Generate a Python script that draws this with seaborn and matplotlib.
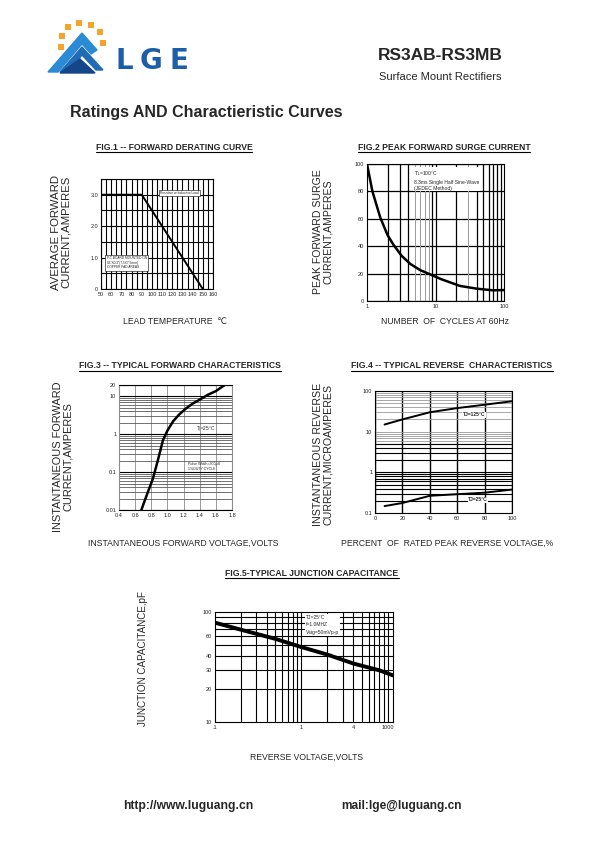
import matplotlib
matplotlib.use('Agg')
import matplotlib.pyplot as plt
from matplotlib.patches import Polygon
from matplotlib.lines import Line2D
from matplotlib.ticker import MultipleLocator, FixedLocator, NullFormatter
import seaborn as sns

# ---- data ----
# fig.1 forward derating
derating_temp = [50, 90, 150]
derating_amps = [3.0, 3.0, 0.0]
fig1_xticks = [50, 60, 70, 80, 90, 100, 110, 120, 130, 140, 150, 160]
fig1_yticks = [0, 1, 2, 3]
fig1_ylabels = ['0', '1.0', '2.0', '3.0']

# fig.2 peak forward surge
surge_cycles = [1, 1.2, 1.56, 2.0, 2.44, 3.2, 4.3, 6, 8.3, 12, 22.8, 40, 69, 100]
surge_amps = [100, 80, 61, 48, 41, 33, 27, 22.5, 19.5, 16, 11, 9, 7.8, 8]
fig2_yticks = [0, 20, 40, 60, 80, 100]
fig2_xticks = [1, 10, 100]
fig2_black_v = [2, 3, 4, 9, 10, 20, 40, 50, 60, 70, 80, 90]
fig2_gray_v = [5, 6, 7, 8, 30]

# fig.3 forward characteristics
fwd_volts = [0.677, 0.72, 0.77, 0.82, 0.88, 0.945, 1.0, 1.07, 1.15, 1.235, 1.32, 1.4, 1.5, 1.6, 1.71]
fwd_amps = [0.01, 0.018, 0.035, 0.067, 0.2, 0.7, 1.25, 2.2, 3.4, 4.9, 6.6, 8.2, 11, 13.8, 20]
fig3_xticks = [0.4, 0.6, 0.8, 1.0, 1.2, 1.4, 1.6, 1.8]
fig3_yticks = [0.01, 0.1, 1, 10, 20]
fig3_ylabels = ['0.01', '0.1', '1', '10', '20']

# fig.4 reverse characteristics
rev_pct = [7, 20, 40, 60, 80, 100]
rev_125 = [15, 20, 30, 38, 46, 56]
rev_25 = [0.148, 0.176, 0.265, 0.29, 0.316, 0.377]
fig4_xticks = [0, 20, 40, 60, 80, 100]
fig4_yticks = [0.1, 1, 10, 100]
fig4_ylabels = ['0.1', '1', '10', '100']
fig4_black_h = [0.2, 0.3, 0.4, 0.5, 0.6, 0.7, 0.8, 0.9, 1, 2, 3, 4, 5]
fig4_gray_h = [6, 7, 8, 9, 10, 20, 30, 40, 50, 60, 70, 80, 90]

# fig.5 junction capacitance
cap_volts = [0.1, 0.2, 0.5, 1, 2, 4, 8, 11.5]
cap_pf = [80, 69, 57, 48, 41, 34, 29.5, 26.5]
fig5_xticks = [0.1, 1, 4, 10]
fig5_xlabels = ['.1', '1', '4', '1000']
fig5_yticks = [10, 20, 30, 40, 60, 100]
fig5_hgrid = [20, 30, 40, 50, 60, 70, 80, 90]
fig5_vgrid = [0.2, 0.3, 0.4, 0.5, 0.6, 0.7, 0.8, 0.9, 1, 2, 3, 4, 5, 6, 7, 8, 9, 10]

sns.set_style('white')
plt.rcParams['font.family'] = ['Liberation Sans', 'DejaVu Sans']

W, H = 595, 842
fig = plt.figure(figsize=(W / 100, H / 100), dpi=100)


def px_axes(l, t, r, b):
    return fig.add_axes([l / W, 1 - b / H, (r - l) / W, (b - t) / H])


def ftext(x, y, s, **kw):
    return fig.text(x / W, 1 - y / H, s, **kw)


def style(ax):
    for s in ax.spines.values():
        s.set_visible(True)
        s.set_color('black')
        s.set_linewidth(0.8)
    ax.tick_params(which='both', length=0, labelsize=4, pad=2, colors='0.15')
    ax.set_xlabel('')
    ax.set_ylabel('')


def ylab(x, y, s, size):
    ftext(x, y, s, rotation=90, ha='center', va='center', fontsize=size, linespacing=0.95)


def xlab(x, y, s):
    ftext(x, y, s, ha='center', va='center', fontsize=6.2)


titles = []


def title(x, y, s):
    t = ftext(x, y, s, ha='center', va='center', fontsize=6.2, fontweight='bold')
    titles.append((t, y))


# ---------------- FIG 1 ----------------
ax1 = px_axes(101, 179, 213, 289)
sns.lineplot(x=derating_temp, y=derating_amps, ax=ax1, color='black', lw=1.4, zorder=5)
ax1.set_xlim(50, 160)
ax1.set_ylim(0, 3.5)
ax1.set_xticks(fig1_xticks)
ax1.set_yticks(fig1_yticks)
ax1.set_yticklabels(fig1_ylabels)
ax1.xaxis.set_minor_locator(MultipleLocator(5))
ax1.yaxis.set_minor_locator(MultipleLocator(0.5))
ax1.grid(which='both', color='black', lw=0.8)
style(ax1)
ax1.text(0.53, 0.87, 'Resistive or Inductive Load', transform=ax1.transAxes, fontsize=2.3,
         va='center', bbox=dict(facecolor='white', edgecolor='black', lw=0.4, pad=0.8), zorder=6)
ax1.text(0.05, 0.24, 'P.C.BOARD MOUNTED ON\n0.3"X0.3"(7.5X7.5mm)\nCOPPER PAD AREAS', transform=ax1.transAxes,
         fontsize=2.3, va='center', linespacing=1.3,
         bbox=dict(facecolor='white', edgecolor='black', lw=0.4, pad=0.8), zorder=6)
title(174, 147, 'FIG.1 -- FORWARD DERATING CURVE')
ylab(61, 232, 'AVERAGE FORWARD\nCURRENT,AMPERES', 8.2)
xlab(175, 321, 'LEAD TEMPERATURE  \u2103')

# ---------------- FIG 2 ----------------
ax2 = px_axes(367, 164, 504, 301)
ax2.set_xscale('log')
sns.lineplot(x=surge_cycles, y=surge_amps, ax=ax2, color='black', lw=1.8, zorder=5)
ax2.set_xlim(1, 100)
ax2.set_ylim(0, 100)
ax2.set_yticks(fig2_yticks)
ax2.set_xticks(fig2_xticks)
ax2.set_xticklabels([str(v) for v in fig2_xticks])
ax2.xaxis.set_minor_locator(FixedLocator([]))
ax2.grid(which='major', axis='y', color='black', lw=0.9)
for v in fig2_black_v:
    ax2.axvline(v, color='black', lw=0.9)
for v in fig2_gray_v:
    ax2.axvline(v, color='0.6', lw=0.7)
style(ax2)
ax2.text(4.8, 96, 'T$_L$=100\u00b0C\n8.3ms Single Half Sine-Wave\n(JEDEC Method)', fontsize=3.6,
         va='top', linespacing=1.3, bbox=dict(facecolor='white', edgecolor='none', pad=0.5), zorder=6)
title(444, 147, 'FIG.2 PEAK FORWARD SURGE CURRENT')
ylab(323, 232, 'PEAK FORWARD SURGE\nCURRENT,AMPERES', 7.6)
xlab(445, 322, 'NUMBER  OF  CYCLES AT 60Hz')

# ---------------- FIG 3 ----------------
ax3 = px_axes(119, 385, 232, 510)
ax3.set_yscale('log')
sns.lineplot(x=fwd_volts, y=fwd_amps, ax=ax3, color='black', lw=1.8, zorder=5)
ax3.set_xlim(0.4, 1.8)
ax3.set_ylim(0.01, 20)
ax3.set_xticks(fig3_xticks)
ax3.set_xticklabels(['%.1f' % v for v in fig3_xticks])
ax3.set_yticks(fig3_yticks)
ax3.set_yticklabels(fig3_ylabels)
ax3.yaxis.set_minor_formatter(NullFormatter())
ax3.grid(which='major', axis='y', color='black', lw=0.8)
ax3.grid(which='minor', axis='y', color='0.35', lw=0.6)
ax3.grid(which='major', axis='x', color='0.55', lw=0.6)
style(ax3)
ax3.spines['left'].set_color('0.55')
ax3.spines['right'].set_color('0.55')
ax3.text(1.36, 1.3, 'T$_J$=25\u00b0C', fontsize=3.4, va='center', zorder=6)
ax3.text(1.26, 0.14, 'Pulse Width=300\u03bcS\n1%DUTY CYCLE', fontsize=2.6, va='center', linespacing=1.2,
         zorder=6)
title(180, 366, 'FIG.3 -- TYPICAL FORWARD CHARACTERISTICS')
ylab(63, 457, 'INSTANTANEOUS FORWARD\nCURRENT,AMPERES', 7.9)
xlab(183, 543, 'INSTANTANEOUS FORWARD VOLTAGE,VOLTS')

# ---------------- FIG 4 ----------------
ax4 = px_axes(375, 391, 512, 513)
ax4.set_yscale('log')
sns.lineplot(x=rev_pct, y=rev_125, ax=ax4, color='black', lw=1.4, zorder=5)
sns.lineplot(x=rev_pct, y=rev_25, ax=ax4, color='black', lw=1.4, zorder=5)
ax4.set_xlim(0, 100)
ax4.set_ylim(0.1, 100)
ax4.set_xticks(fig4_xticks)
ax4.set_yticks(fig4_yticks)
ax4.set_yticklabels(fig4_ylabels)
ax4.yaxis.set_minor_locator(FixedLocator([]))
ax4.grid(which='major', axis='x', color='black', lw=1.0)
for v in fig4_black_h:
    ax4.axhline(v, color='black', lw=0.8)
for v in fig4_gray_h:
    ax4.axhline(v, color='0.6', lw=0.6)
style(ax4)
ax4.text(64, 26, 'TJ=125\u00b0C', fontsize=3.6, fontweight='bold', va='center', zorder=6,
         bbox=dict(facecolor='white', edgecolor='none', pad=0.3))
ax4.text(68, 0.21, 'TJ=25\u00b0C', fontsize=3.6, fontweight='bold', va='center', zorder=6,
         bbox=dict(facecolor='white', edgecolor='none', pad=0.3))
title(452, 366, 'FIG.4 -- TYPICAL REVERSE  CHARACTERISTICS')
ylab(323, 454, 'INSTANTANEOUS REVERSE\nCURRENT,MICROAMPERES', 7.7)
xlab(447, 543, 'PERCENT  OF  RATED PEAK REVERSE VOLTAGE,%')

# ---------------- FIG 5 ----------------
ax5 = px_axes(215, 612, 393, 722)
ax5.set_xscale('log')
ax5.set_yscale('log')
sns.lineplot(x=cap_volts, y=cap_pf, ax=ax5, color='black', lw=2.8, zorder=5)
ax5.set_xlim(0.1, 11.5)
ax5.set_ylim(10, 100)
ax5.set_xticks(fig5_xticks)
ax5.set_xticklabels(fig5_xlabels)
ax5.set_yticks(fig5_yticks)
ax5.set_yticklabels([str(v) for v in fig5_yticks])
ax5.xaxis.set_minor_locator(FixedLocator([]))
ax5.yaxis.set_minor_locator(FixedLocator([]))
for v in fig5_hgrid:
    ax5.axhline(v, color='black', lw=0.8)
for v in fig5_vgrid:
    ax5.axvline(v, color='black', lw=0.8)
style(ax5)
ax5.text(1.12, 94, 'TJ=25\u00b0C\nf=1.0MHZ\nVsig=50mVp-p', fontsize=3.6, va='top', linespacing=1.6, zorder=6,
         bbox=dict(facecolor='white', edgecolor='none', pad=0.6))
title(312, 573, 'FIG.5-TYPICAL JUNCTION CAPACITANCE')
ylab(143, 658, 'JUNCTION CAPACITANCE,pF', 7.1)
xlab(307, 757, 'REVERSE VOLTAGE,VOLTS')

# ---------------- header / footer ----------------
ftext(440, 56, 'RS3AB-RS3MB', ha='center', va='center', fontsize=12.5, fontweight='bold')
ftext(440, 77, 'Surface Mount Rectifiers', ha='center', va='center', fontsize=8, color='0.15')
ftext(70, 113, 'Ratings AND Charactieristic Curves', ha='left', va='center', fontsize=11.5, fontweight='bold')
ftext(123, 806, 'http://www.luguang.cn', ha='left', va='center', fontsize=8.7, fontweight='bold')
ftext(341, 806, 'mail:lge@luguang.cn', ha='left', va='center', fontsize=8.6, fontweight='bold')

# logo
lax = fig.add_axes([0, 0, 1, 1], zorder=-1)
lax.set_xlim(0, W)
lax.set_ylim(H, 0)
lax.axis('off')
lax.add_patch(Polygon([(48, 72), (82, 33), (97, 50), (91, 54), (82, 44), (58, 72)], color='#2a8ad4'))
lax.add_patch(Polygon([(60, 72), (82, 47), (103, 70), (96, 70), (82, 55), (68, 72)], color='#1f6bb5'))
lax.add_patch(Polygon([(60, 73), (80, 59), (95, 73)], color='#16468a'))
lax.scatter([61, 62, 68, 79, 91, 100, 103], [47, 36, 27, 23, 25, 32, 43], marker='s', s=16,
            color='#f5a32a', linewidths=0)
for letter, lx in zip('LGE', [116, 140, 169]):
    ftext(lx, 61, letter, ha='left', va='center', fontsize=20, fontweight='bold', color='#1c5ea8',
          family='DejaVu Sans')

# underline the figure titles
fig.canvas.draw()
for t, y in titles:
    bb = t.get_window_extent()
    yl = 1 - (y + 5) / H
    fig.add_artist(Line2D([bb.x0 / W, bb.x1 / W], [yl, yl], color='black', lw=0.8))

fig.savefig('out.png', dpi=100)
